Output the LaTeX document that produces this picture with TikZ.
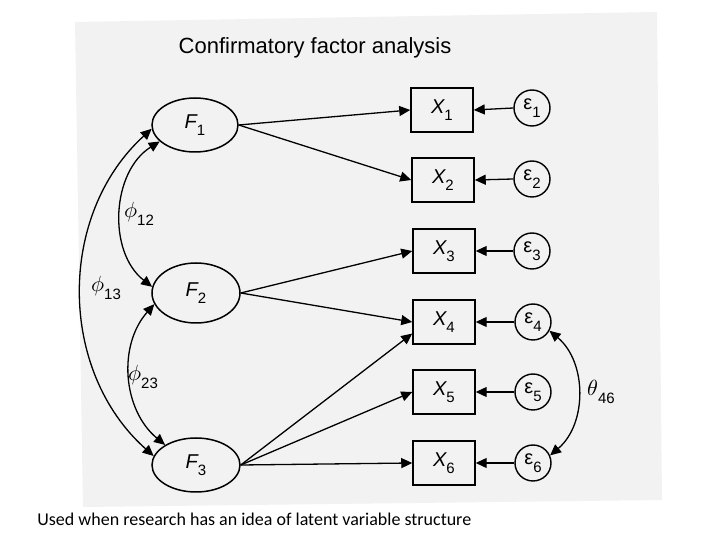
\documentclass[tikz,border=0pt]{standalone}
\usepackage{fontspec}
\setmainfont{Liberation Sans}
\newfontfamily\capfont{Carlito}
\usetikzlibrary{arrows.meta,shapes.geometric}
\definecolor{scan}{HTML}{F2F2F2}
\newcommand\sbs[1]{\raisebox{-0.7ex}{\fontsize{7.5}{8}\selectfont #1}}
\begin{document}
\begin{tikzpicture}[x=0.5pt,y=-0.5pt,
  lat/.style={ellipse,draw,line width=0.75pt,minimum width=44pt,minimum height=28pt,inner sep=0pt,font=\fontsize{10}{11}\selectfont},
  obs/.style={rectangle,draw,line width=0.75pt,minimum width=31pt,minimum height=22pt,inner sep=0pt,font=\fontsize{10}{11}\selectfont},
  err/.style={circle,draw,line width=0.7pt,minimum size=18pt,inner sep=0pt,font=\fontsize{10}{11}\selectfont},
  arr/.style={line width=0.65pt,-{Triangle[length=5.5pt,width=5pt]}},
  darr/.style={line width=0.65pt,{Triangle[length=5.5pt,width=5pt]}-{Triangle[length=5.5pt,width=5pt]}},
  lbl/.style={inner sep=0pt,font=\fontsize{10.95}{12}\selectfont}]
\useasboundingbox (0,0) rectangle (720,540);
\fill[white] (0,0) rectangle (720,540);
\fill[scan] (75,22) -- (657,12) -- (662,500) -- (83,507) -- cycle;

\node[font=\fontsize{11}{13}\selectfont] (title) at (315,48) {Confirmatory factor analysis};

% latent factors
\node[lat,minimum width=43pt,minimum height=27pt] (F1) at (195,125) {\itshape F\sbs{\upshape 1}};
\node[lat,minimum width=44pt,minimum height=30pt] (F2) at (196,293) {\itshape F\sbs{\upshape 2}};
\node[lat,minimum width=44pt,minimum height=27pt] (F3) at (196,465) {\itshape F\sbs{\upshape 3}};

% observed variables
\node[obs] (X1) at (442,110) {\itshape X\sbs{\upshape 1}};
\node[obs] (X2) at (443,180) {\itshape X\sbs{\upshape 2}};
\node[obs] (X3) at (444,251) {\itshape X\sbs{\upshape 3}};
\node[obs] (X4) at (444,322) {\itshape X\sbs{\upshape 4}};
\node[obs] (X5) at (444,392) {\itshape X\sbs{\upshape 5}};
\node[obs] (X6) at (444,463) {\itshape X\sbs{\upshape 6}};

% errors
\node[err] (e1) at (532,108) {ε\sbs{1}};
\node[err] (e2) at (532,179) {ε\sbs{2}};
\node[err] (e3) at (532,251) {ε\sbs{3}};
\node[err] (e4) at (533,322) {ε\sbs{4}};
\node[err] (e5) at (533,392) {ε\sbs{5}};
\node[err] (e6) at (533,463) {ε\sbs{6}};

% loadings
\draw[arr] (F1.east) -- (X1.west);
\draw[arr] (F1.east) -- (X2.west);
\draw[arr] (F2.east) -- (X3.west);
\draw[arr] (F2.east) -- (X4.west);
\draw[arr] (F3.east) -- (X4.200);
\draw[arr] (F3.east) -- (X5.west);
\draw[arr] (F3.east) -- (X6.west);

% error arrows
\foreach \i in {1,...,6} \draw[arr] (e\i.west) -- (X\i.east);

% covariances
\draw[darr] (F1.205) to[bend right=55] (F2.172);
\draw[darr] (F1.185) to[bend right=48] (F3.168);
\draw[darr] (F2.195) to[bend right=46] (F3.147);
\draw[darr] (e4.-28) to[bend left=50] (e6.24);

\node[lbl] (p12) at (139,214) {$\phi$\sbs{12}};
\node[lbl] (p13) at (106,288) {$\phi$\sbs{13}};
\node[lbl] (p23) at (143,377) {$\phi$\sbs{23}};
\node[lbl] (t46) at (601,392) {$\theta$\sbs{46}};

\node[anchor=west,inner sep=0pt,font=\capfont\fontsize{9}{10}\selectfont] (cap) at (37,519) {Used when research has an idea of latent variable structure};
\end{tikzpicture}
\end{document}
